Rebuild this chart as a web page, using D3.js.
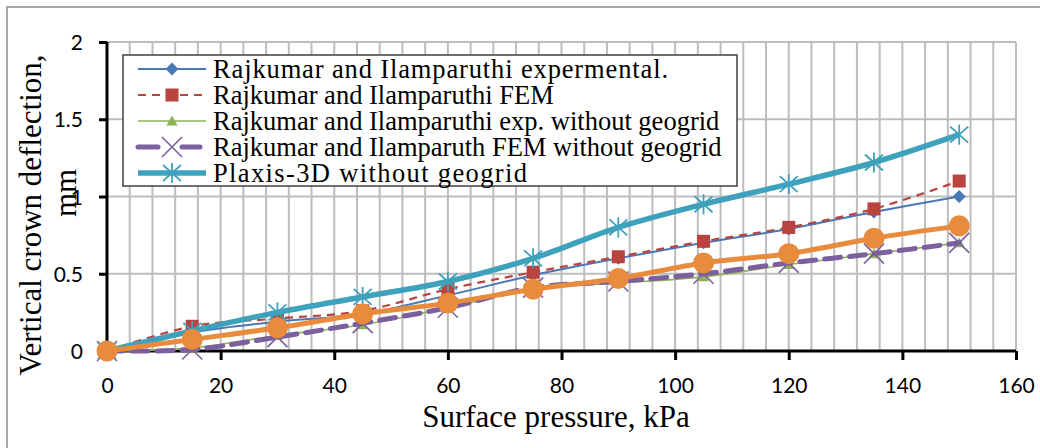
<!DOCTYPE html>
<html><head><meta charset="utf-8">
<script src="https://cdn.jsdelivr.net/npm/d3@7"></script>
<style>html,body{margin:0;padding:0;background:#fff;}svg{display:block;}</style>
</head><body>
<script>
const pressure = [0, 15, 30, 45, 60, 75, 90, 105, 120, 135, 150];
const expGeogrid   = [0, 0.12, 0.19, 0.24, 0.36, 0.49, 0.60, 0.70, 0.79, 0.90, 1.00];
const femGeogrid   = [0, 0.16, 0.21, 0.26, 0.40, 0.51, 0.61, 0.71, 0.80, 0.92, 1.10];
const expNoGeogrid = [0, 0.02, 0.10, 0.17, 0.28, 0.40, 0.44, 0.48, 0.56, 0.63, 0.70];
const femNoGeogrid = [0, 0.01, 0.09, 0.18, 0.28, 0.41, 0.45, 0.50, 0.57, 0.63, 0.70];
const plaxisNoGeo  = [0, 0.13, 0.25, 0.35, 0.45, 0.60, 0.80, 0.95, 1.08, 1.22, 1.40];
const plaxisGeo    = [0, 0.075, 0.15, 0.24, 0.31, 0.40, 0.47, 0.57, 0.63, 0.73, 0.81];
const legendLabels = [
  "Rajkumar and Ilamparuthi expermental.",
  "Rajkumar and Ilamparuthi FEM",
  "Rajkumar and Ilamparuthi exp. without geogrid",
  "Rajkumar and Ilamparuth FEM without geogrid",
  "Plaxis-3D without geogrid"
];
const xTicks = [0, 20, 40, 60, 80, 100, 120, 140, 160];
const yTicks = [0, 0.5, 1, 1.5, 2];
const yTickLabels = ["0", "0.5", "1", "1.5", "2"];

const series = [
  {vals: expGeogrid, color: "#4A78B5", width: 2, dash: null, marker: "diamond", legend: 0},
  {vals: femGeogrid, color: "#B8433F", width: 2.2, dash: "8,6", marker: "square", legend: 1},
  {vals: expNoGeogrid, color: "#8DB255", width: 1.6, dash: null, marker: "triangle", legend: 2},
  {vals: femNoGeogrid, color: "#7C5F9E", width: 5, dash: "16,9", marker: "x", legend: 3, cap: "round"},
  {vals: plaxisNoGeo, color: "#3FA2BC", width: 5.5, dash: null, marker: "star", legend: 4},
  {vals: plaxisGeo, color: "#E88B3D", width: 5, dash: null, marker: "circle", legend: null}
];
// stretched widths of some legend lines as they appear in the original
const legendTextLen = [455, null, null, null, 314];

const W = 1040, H = 448;
const svg = d3.select("body").append("svg").attr("width", W).attr("height", H);
svg.append("rect").attr("width", W).attr("height", H).attr("fill", "#fff");
svg.append("rect").attr("x", 7).attr("y", 7).attr("width", W + 20).attr("height", H + 20)
  .attr("fill", "none").attr("stroke", "#8c8c8c").attr("stroke-width", 1.5);

const x = d3.scaleLinear().domain([0, 160]).range([107, 1016]);
const y = d3.scaleLinear().domain([0, 2]).range([351, 42]);

const g = svg.append("g");
g.selectAll(".vg").data(d3.range(4, 161, 4)).join("line")
  .attr("x1", d => x(d)).attr("x2", d => x(d)).attr("y1", y(2)).attr("y2", y(0))
  .attr("stroke", "#bdbdbd").attr("stroke-width", 2);
g.selectAll(".hg").data(yTicks.slice(1)).join("line")
  .attr("x1", x(0)).attr("x2", x(160)).attr("y1", d => y(d)).attr("y2", d => y(d))
  .attr("stroke", "#bdbdbd").attr("stroke-width", 2);

const xAxis = d3.axisBottom(x).tickValues(xTicks).tickSize(9).tickFormat(d3.format("d"));
const yAxis = d3.axisLeft(y).tickValues(yTicks).tickSize(8).tickFormat((d, i) => yTickLabels[i]);
const gx = svg.append("g").attr("transform", `translate(0,${y(0)})`).call(xAxis);
const gy = svg.append("g").attr("transform", `translate(${x(0)},0)`).call(yAxis);
[gx, gy].forEach(a => {
  a.select(".domain").attr("stroke", "#000").attr("stroke-width", 3);
  a.selectAll(".tick line").attr("stroke", "#000").attr("stroke-width", 3);
  a.selectAll(".tick text").attr("fill", "#000").style("font-family", "Lato, 'Liberation Sans', sans-serif").style("font-size", "21px");
});
gx.select(".domain").attr("d", `M${x(0)},0H${x(160)}`);
gy.select(".domain").attr("d", `M0,${y(0)}V${y(2)}`);
gx.selectAll(".tick text").attr("y", 0).attr("dy", 0).attr("transform", "translate(0,42)");
gy.selectAll(".tick text").attr("x", -24).attr("dy", "0.36em");

svg.append("text").attr("x", 556).attr("y", 427).attr("text-anchor", "middle")
  .style("font-family", "'Liberation Serif', 'Times New Roman', serif").style("font-size", "31px")
  .text("Surface pressure, kPa");
svg.append("text").attr("transform", "translate(41,215) rotate(-90)").attr("text-anchor", "middle")
  .style("font-family", "'Liberation Serif', 'Times New Roman', serif").style("font-size", "31px")
  .text("Vertical crown deflection,");
svg.append("text").attr("transform", "translate(76,193) rotate(-90)").attr("text-anchor", "middle")
  .style("font-family", "'Liberation Serif', 'Times New Roman', serif").style("font-size", "31px")
  .text("mm");

function drawMarker(sel, type, color) {
  if (type === "diamond") {
    sel.append("path").attr("d", "M0,-6.5L6.5,0L0,6.5L-6.5,0Z").attr("fill", color);
  } else if (type === "square") {
    sel.append("rect").attr("x", -6.5).attr("y", -6.5).attr("width", 13).attr("height", 13).attr("fill", color);
  } else if (type === "triangle") {
    sel.append("path").attr("d", "M0,-5.5L5.5,4.5L-5.5,4.5Z").attr("fill", color);
  } else if (type === "x") {
    sel.append("path").attr("d", "M-10,-10L10,10M-10,10L10,-10").attr("stroke", color).attr("stroke-width", 1.6).attr("fill", "none");
  } else if (type === "star") {
    sel.append("path").attr("d", "M0,-10V10M-9,-8L9,8M-9,8L9,-8").attr("stroke", color).attr("stroke-width", 1.8).attr("fill", "none");
  } else if (type === "circle") {
    sel.append("circle").attr("r", 10.5).attr("fill", color);
  }
}

const line = d3.line().x((d, i) => x(pressure[i])).y(d => y(d)).curve(d3.curveCatmullRom.alpha(0));
series.forEach(s => {
  const sg = svg.append("g");
  sg.append("path").attr("d", line(s.vals)).attr("fill", "none").attr("stroke", s.color)
    .attr("stroke-width", s.width).attr("stroke-dasharray", s.dash).attr("stroke-linecap", s.cap || "butt")
    .attr("stroke-linejoin", "round");
  s.vals.forEach((v, i) => {
    const m = sg.append("g").attr("transform", `translate(${x(pressure[i])},${y(v)})`);
    drawMarker(m, s.marker, s.color);
  });
});

const lg = svg.append("g");
lg.append("rect").attr("x", 123).attr("y", 55).attr("width", 614).attr("height", 131)
  .attr("fill", "#fff").attr("stroke", "#404040").attr("stroke-width", 1.5);
series.filter(s => s.legend !== null).forEach(s => {
  const cy = 69 + s.legend * 26;
  const row = lg.append("g");
  row.append("line").attr("x1", 138).attr("x2", 206).attr("y1", cy).attr("y2", cy)
    .attr("stroke", s.color).attr("stroke-width", s.width)
    .attr("stroke-dasharray", s.marker === "x" ? "20,48" : s.dash)
    .attr("stroke-linecap", s.cap || "butt");
  if (s.marker === "x") {
    row.append("line").attr("x1", 182).attr("x2", 200).attr("y1", cy).attr("y2", cy)
      .attr("stroke", s.color).attr("stroke-width", s.width).attr("stroke-linecap", "round");
  }
  const m = row.append("g").attr("transform", `translate(172,${cy})`);
  drawMarker(m, s.marker, s.color);
  const t = row.append("text").attr("x", 213).attr("y", cy + 9)
    .style("font-family", "'Liberation Serif', 'Times New Roman', serif").style("font-size", "26.5px")
    .text(legendLabels[s.legend]);
  if (legendTextLen[s.legend]) t.attr("textLength", legendTextLen[s.legend]).attr("lengthAdjust", "spacing");
});
</script>
</body></html>
